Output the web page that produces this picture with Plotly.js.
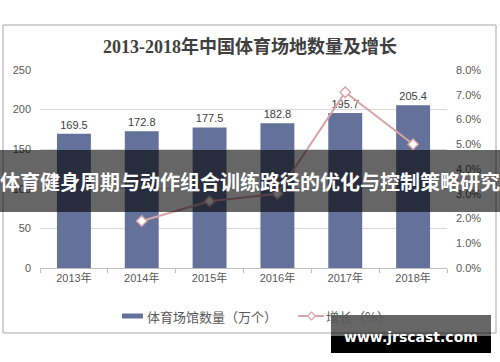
<!DOCTYPE html>
<html>
<head>
<meta charset="utf-8">
<script src="https://cdn.plot.ly/plotly-3.0.1.min.js"></script>
<style>html,body{margin:0;padding:0;background:#fff;}#chart{width:500px;height:362px;}</style>
</head>
<body>
<div id="chart"></div>
<script>
// Data
const categories = ["2013年", "2014年", "2015年", "2016年", "2017年", "2018年"];
const venueCounts = [169.5, 172.8, 177.5, 182.8, 195.7, 205.4];
const growthPct = [null, 1.9, 2.7, 3.0, 7.1, 5.0];
const chartTitle = "2013-2018年中国体育场地数量及增长";
const barName = "体育场馆数量（万个）";
const lineName = "增长（%）";
const bannerText = "体育健身周期与动作组合训练路径的优化与控制策略研究";
const watermarkText = "www.jrscast.com";

const barColor = "#64729b";
const lineColor = "#d8a4a7";
const textFont = "Liberation Sans, Arial, Noto Sans CJK SC, sans-serif";

// pixel -> paper helpers (plot area 40..447 x, 70..268 y)
const L = 40, R = 447, T = 70, B = 268;
const px = x => (x - L) / (R - L);
const py = y => (B - y) / (B - T);

const traces = [
  {
    type: "bar",
    x: categories,
    y: venueCounts,
    name: barName,
    marker: {color: barColor},
    width: 0.5,
    text: venueCounts.map(v => v.toFixed(1)),
    textposition: "outside",
    textfont: {family: textFont, size: 11, color: "#404040"},
    cliponaxis: false,
    showlegend: false,
    hoverinfo: "skip"
  },
  {
    type: "scatter",
    mode: "lines+markers",
    x: categories,
    y: growthPct,
    yaxis: "y2",
    name: lineName,
    line: {color: lineColor, width: 2},
    marker: {symbol: "diamond", size: 8, color: "#ffffff", line: {color: lineColor, width: 1.5}},
    cliponaxis: false,
    showlegend: false,
    hoverinfo: "skip"
  }
];

const dcx = px(311.5), dcy = py(316), ddx = 4 / (R - L), ddy = 4 / (B - T);

const layout = {
  width: 500,
  height: 362,
  margin: {l: L, r: 500 - R, t: T, b: 362 - B, pad: 0},
  paper_bgcolor: "#ffffff",
  plot_bgcolor: "#ffffff",
  font: {family: textFont, size: 11, color: "#595959"},
  title: {
    text: "<b>" + chartTitle + "</b>",
    x: 0.5, xref: "container", xanchor: "center",
    y: 1 - 47 / 362, yref: "container", yanchor: "middle",
    font: {family: "Liberation Serif, Noto Sans CJK SC, serif", size: 18, color: "#404040"}
  },
  bargap: 0.5,
  xaxis: {
    type: "category",
    showgrid: false,
    showline: true,
    linecolor: "#bfbfbf",
    linewidth: 1,
    ticks: "outside",
    tickson: "boundaries",
    ticklen: 4,
    tickcolor: "#bfbfbf",
    tickfont: {family: textFont, size: 11, color: "#595959"},
    zeroline: false,
    fixedrange: true
  },
  yaxis: {
    range: [0, 250],
    dtick: 50,
    showgrid: true,
    gridcolor: "#d9d9d9",
    gridwidth: 1,
    zeroline: false,
    showline: false,
    ticks: "",
    ticklabelstandoff: 8,
    tickfont: {family: textFont, size: 11, color: "#595959"},
    fixedrange: true
  },
  yaxis2: {
    overlaying: "y",
    side: "right",
    range: [0, 8],
    dtick: 1,
    tickformat: ".1f",
    ticksuffix: "%",
    showgrid: false,
    zeroline: false,
    showline: false,
    ticks: "",
    ticklabelstandoff: 8,
    tickfont: {family: textFont, size: 11, color: "#595959"},
    fixedrange: true
  },
  shapes: [
    // chart border
    {type: "rect", xref: "paper", yref: "paper", x0: px(3), x1: px(496), y0: py(333), y1: py(25),
     line: {color: "#a6a6a6", width: 1}, fillcolor: "rgba(0,0,0,0)", layer: "below"},
    // custom legend: bar key
    {type: "rect", xref: "paper", yref: "paper", x0: px(122), x1: px(143), y0: py(318.5), y1: py(313.5),
     line: {width: 0}, fillcolor: barColor, layer: "above"},
    // custom legend: line key
    {type: "line", xref: "paper", yref: "paper", x0: px(298), x1: px(324), y0: py(316), y1: py(316),
     line: {color: lineColor, width: 2}, layer: "above"},
    {type: "path", xref: "paper", yref: "paper",
     path: `M ${dcx},${dcy + ddy} L ${dcx + ddx},${dcy} L ${dcx},${dcy - ddy} L ${dcx - ddx},${dcy} Z`,
     line: {color: lineColor, width: 1.2}, fillcolor: "#ffffff", layer: "above"},
    // banner
    {type: "rect", xref: "paper", yref: "paper", x0: px(-2), x1: px(502), y0: py(212), y1: py(150),
     line: {width: 0}, fillcolor: "rgba(0,0,0,0.6)", layer: "above"},
    // watermark box
    {type: "rect", xref: "paper", yref: "paper", x0: px(331), x1: px(491), y0: py(336), y1: py(315),
     line: {width: 0}, fillcolor: "rgba(0,0,0,0.6)", layer: "above"},
    {type: "rect", xref: "paper", yref: "paper", x0: px(331), x1: px(491), y0: py(353), y1: py(336),
     line: {width: 0}, fillcolor: "#000000", layer: "above"}
  ],
  annotations: [
    {xref: "paper", yref: "paper", x: px(145), y: py(316), xanchor: "left", yanchor: "middle",
     text: barName, showarrow: false, font: {family: "Noto Sans CJK SC, sans-serif", size: 13, color: "#595959"}},
    {xref: "paper", yref: "paper", x: px(324), y: py(316), xanchor: "left", yanchor: "middle",
     text: lineName, showarrow: false, font: {family: "Noto Sans CJK SC, sans-serif", size: 13, color: "#595959"}},
    {xref: "paper", yref: "paper", x: px(250), y: py(181), xanchor: "center", yanchor: "middle",
     text: "<b>" + bannerText + "</b>", showarrow: false,
     font: {family: "Noto Sans CJK SC, sans-serif", size: 20, color: "#ffffff"}},
    {xref: "paper", yref: "paper", x: px(411), y: py(337), xanchor: "center", yanchor: "middle",
     text: "<b>" + watermarkText + "</b>", showarrow: false,
     font: {family: "DejaVu Sans, sans-serif", size: 14, color: "#ffffff"}}
  ]
};

Plotly.newPlot("chart", traces, layout, {staticPlot: true, displayModeBar: false});
</script>
</body>
</html>
